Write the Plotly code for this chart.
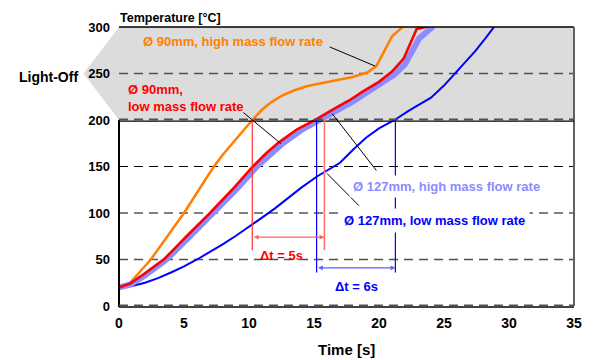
import plotly.graph_objects as go

# ---------------- data ----------------
orange_t = [0, 0.85, 2.45, 5.0, 6.65, 7.3, 8.0, 8.8, 9.5, 10.25, 11.0, 11.7, 12.5, 13.5, 14.5, 15.3, 16.8, 17.9, 19.1, 19.8, 21.0, 21.9]
orange_T = [20, 25, 50, 100, 136, 150, 163, 176, 188, 200, 211, 219, 226, 232, 236.5, 239, 243, 246, 251, 258, 290, 301]

red_t = [0, 0.85, 1.8, 3.45, 5.2, 7.0, 8.7, 10.3, 11.3, 12.3, 13.7, 15.2, 16.3, 17.7, 18.8, 20.0, 21.0, 21.9, 22.4, 22.9, 23.9]
red_T = [20, 24, 33, 50, 75, 100, 125, 150, 164, 176, 190, 201, 210, 221, 231, 241, 252, 266, 282, 298, 301]

purple_t = [0, 0.85, 1.9, 3.65, 5.45, 7.3, 9.0, 10.6, 11.6, 12.6, 14.0, 15.5, 16.6, 18.0, 19.1, 20.3, 21.2, 22.0, 22.5, 23.1, 24.2]
purple_T = [20, 23, 32, 50, 75, 100, 125, 150, 163, 175, 189, 200, 209, 220, 230, 240, 249, 260, 274, 288, 301]

blue_t = [0, 1, 2, 3, 4, 5, 6, 7, 8, 9, 10, 11, 12, 13, 14, 15.2, 16, 17, 18, 19, 20, 21.2, 22.3, 23.2, 24, 25, 25.9, 26.7, 27.4, 28.2, 28.9]
blue_T = [20, 21.5, 25, 30, 36, 42.5, 50, 58, 66.5, 75.5, 85, 95, 105, 116, 127, 139, 146, 154, 168, 181, 191, 200, 210, 217, 224, 237, 251, 263, 274, 288, 301]

x_ticks = [0, 5, 10, 15, 20, 25, 30, 35]
y_ticks = [0, 50, 100, 150, 200, 250, 300]
grid_dark = [50, 250]
grid_black = [100, 150]

light_off_low, light_off_high = 200, 300

# delta-t markers (time, temperature)
red_delta_t = [10.25, 15.8]
red_delta_bottom = 60
red_delta_arrow_T = 74
blue_delta_t = [15.2, 21.26]
blue_delta_bottom = 36
blue_delta_arrow_T = 41

# labels: text, t, T, color
labels = [
    ("Ø 90mm, high mass flow rate", 1.67, 284, "#ff8000"),
    ("Ø 90mm,<br>low mass flow rate", 0.5, 224, "#ff0000"),
]
# leader lines (t0, T0, t1, T1)
leaders = [
    (16.2, 278.6, 19.7, 258),
    (9.57, 208, 12.45, 174.6),
    (16.4, 206.8, 19.8, 145.7),
    (16.0, 142.5, 18.45, 108),
]

FONT = "Arial, Liberation Sans, sans-serif"

fig = go.Figure()

fig.add_trace(go.Scatter(x=orange_t, y=orange_T, mode="lines",
                         line=dict(color="#ff8000", width=2.5), hoverinfo="skip"))
fig.add_trace(go.Scatter(x=blue_t, y=blue_T, mode="lines",
                         line=dict(color="#0000ff", width=2), hoverinfo="skip"))
fig.add_trace(go.Scatter(x=purple_t, y=purple_T, mode="lines",
                         line=dict(color="#8c8cff", width=6), hoverinfo="skip"))
fig.add_trace(go.Scatter(x=red_t, y=red_T, mode="lines",
                         line=dict(color="#ff0000", width=2.6), hoverinfo="skip"))

shapes = []
ylo = light_off_low / 300
# grey light-off band with arrow pointing left
shapes.append(dict(type="path", xref="paper", yref="paper",
                   path=f"M 0,{ylo} L -0.078,{(1+ylo)/2} L 0,1 L 1,1 L 1,{ylo} Z",
                   fillcolor="#dcdcdc", line=dict(width=0), layer="below"))
# grid lines
for g in grid_dark:
    shapes.append(dict(type="line", xref="x", yref="y", x0=0, x1=35, y0=g, y1=g,
                       line=dict(color="#505050", width=1.5, dash="9px,6px"), layer="below"))
for g in grid_black:
    shapes.append(dict(type="line", xref="x", yref="y", x0=0, x1=35, y0=g, y1=g,
                       line=dict(color="#000000", width=1, dash="9px,6px"), layer="below"))
# frame
shapes += [
    dict(type="line", xref="paper", yref="paper", x0=0, x1=1, y0=1, y1=1,
         line=dict(color="#000", width=1.5)),
    dict(type="line", xref="paper", yref="paper", x0=1, x1=1, y0=0, y1=1,
         line=dict(color="#606060", width=2)),
    dict(type="line", xref="paper", yref="paper", x0=0, x1=0, y0=-0.004, y1=ylo,
         line=dict(color="#000", width=2)),
    dict(type="line", xref="paper", yref="paper", x0=0, x1=1, y0=ylo - 0.004, y1=ylo - 0.004,
         line=dict(color="#000", width=1.2)),
    dict(type="line", xref="paper", yref="paper", x0=0, x1=1, y0=ylo + 0.002, y1=ylo + 0.002,
         line=dict(color="#505050", width=2, dash="9px,6px")),
    dict(type="line", xref="paper", yref="paper", x0=0, x1=1, y0=-0.004, y1=-0.004,
         line=dict(color="#000", width=1.5)),
    dict(type="line", xref="paper", yref="paper", x0=0, x1=1, y0=0.002, y1=0.002,
         line=dict(color="#505050", width=2, dash="9px,6px")),
]
# delta-t vertical lines
shapes.append(dict(type="line", xref="x", yref="y", x0=red_delta_t[0], x1=red_delta_t[0],
                   y0=red_delta_bottom, y1=light_off_low, line=dict(color="#ff3030", width=1.2)))
shapes.append(dict(type="line", xref="x", yref="y", x0=red_delta_t[1], x1=red_delta_t[1],
                   y0=red_delta_bottom, y1=light_off_low, line=dict(color="#ff7070", width=1.6)))
for tt in blue_delta_t:
    shapes.append(dict(type="line", xref="x", yref="y", x0=tt, x1=tt,
                       y0=blue_delta_bottom, y1=light_off_low, line=dict(color="#0000ff", width=1.2)))
# leader lines
for (a, b, c, d) in leaders:
    shapes.append(dict(type="line", xref="x", yref="y", x0=a, y0=b, x1=c, y1=d,
                       line=dict(color="#000", width=1)))

fig.update_layout(shapes=shapes)

ann = []
for text, t, T, col in labels:
    ann.append(dict(x=t, y=T, xref="x", yref="y", text=text, showarrow=False,
                    xanchor="left", yanchor="middle", align="left",
                    font=dict(family=FONT, size=13, color=col, weight="bold")))
ann.append(dict(x=17.7, y=128.6, xref="x", yref="y", text="Ø 127mm, high mass flow rate",
                showarrow=False, xanchor="left", yanchor="middle", bgcolor="#ffffff", borderpad=3,
                font=dict(family=FONT, size=13, color="#8c8cff", weight="bold")))
ann.append(dict(x=16.9, y=92, xref="x", yref="y", text="Ø 127mm, low mass flow rate",
                showarrow=False, xanchor="left", yanchor="middle", bgcolor="#ffffff", borderpad=4,
                font=dict(family=FONT, size=13, color="#0000ff", weight="bold")))
# delta arrows
ann.append(dict(x=red_delta_t[1], y=red_delta_arrow_T, ax=red_delta_t[0], ay=red_delta_arrow_T,
                xref="x", yref="y", axref="x", ayref="y", text="", showarrow=True,
                arrowhead=2, arrowside="end+start", arrowsize=0.8, arrowwidth=1.2,
                arrowcolor="#ff6060", startarrowhead=2, startarrowsize=0.8, standoff=0, startstandoff=0))
ann.append(dict(x=blue_delta_t[1], y=blue_delta_arrow_T, ax=blue_delta_t[0], ay=blue_delta_arrow_T,
                xref="x", yref="y", axref="x", ayref="y", text="", showarrow=True,
                arrowhead=2, arrowside="end+start", arrowsize=0.8, arrowwidth=1.2,
                arrowcolor="#6060ff", startarrowhead=2, startarrowsize=0.8, standoff=0, startstandoff=0))
ann.append(dict(x=12.5, y=54, xref="x", yref="y", text="Δt = 5s", showarrow=False,
                font=dict(family=FONT, size=13, color="#ff0000", weight="bold")))
ann.append(dict(x=18.3, y=21.5, xref="x", yref="y", text="Δt = 6s", showarrow=False,
                font=dict(family=FONT, size=13, color="#0000ff", weight="bold")))
# axis texts
ann.append(dict(x=-0.085, y=246.5, xref="paper", yref="y", text="Light-Off", showarrow=False,
                xanchor="right", yanchor="middle",
                font=dict(family=FONT, size=14, color="#000", weight="bold")))
ann.append(dict(x=-0.002, y=1.034, xref="paper", yref="paper", text="Temperature [°C]",
                showarrow=False, xanchor="left", yanchor="middle",
                font=dict(family=FONT, size=12.5, color="#000", weight="bold")))
ann.append(dict(x=0.5, y=-0.157, xref="paper", yref="paper", text="Time [s]",
                showarrow=False, xanchor="center", yanchor="middle",
                font=dict(family=FONT, size=15, color="#000", weight="bold")))
fig.update_layout(annotations=ann)

# the page body adds an 8px margin, so the figure is sized to fit the 594x360 window
fig.update_layout(
    width=586, height=352,
    margin=dict(l=111, r=14, t=18, b=54),
    paper_bgcolor="#ffffff", plot_bgcolor="#ffffff",
    showlegend=False,
    xaxis=dict(range=[0, 35], tickvals=x_ticks, showgrid=False, zeroline=False, showline=False,
               ticks="", ticklabelstandoff=7,
               tickfont=dict(family=FONT, size=14, color="#000", weight="bold"), fixedrange=True),
    yaxis=dict(range=[0, 300], tickvals=y_ticks, showgrid=False, zeroline=False, showline=False,
               ticks="", ticklabelstandoff=8,
               tickfont=dict(family=FONT, size=13, color="#000", weight="bold"), fixedrange=True),
)

fig.write_html("out.html")
